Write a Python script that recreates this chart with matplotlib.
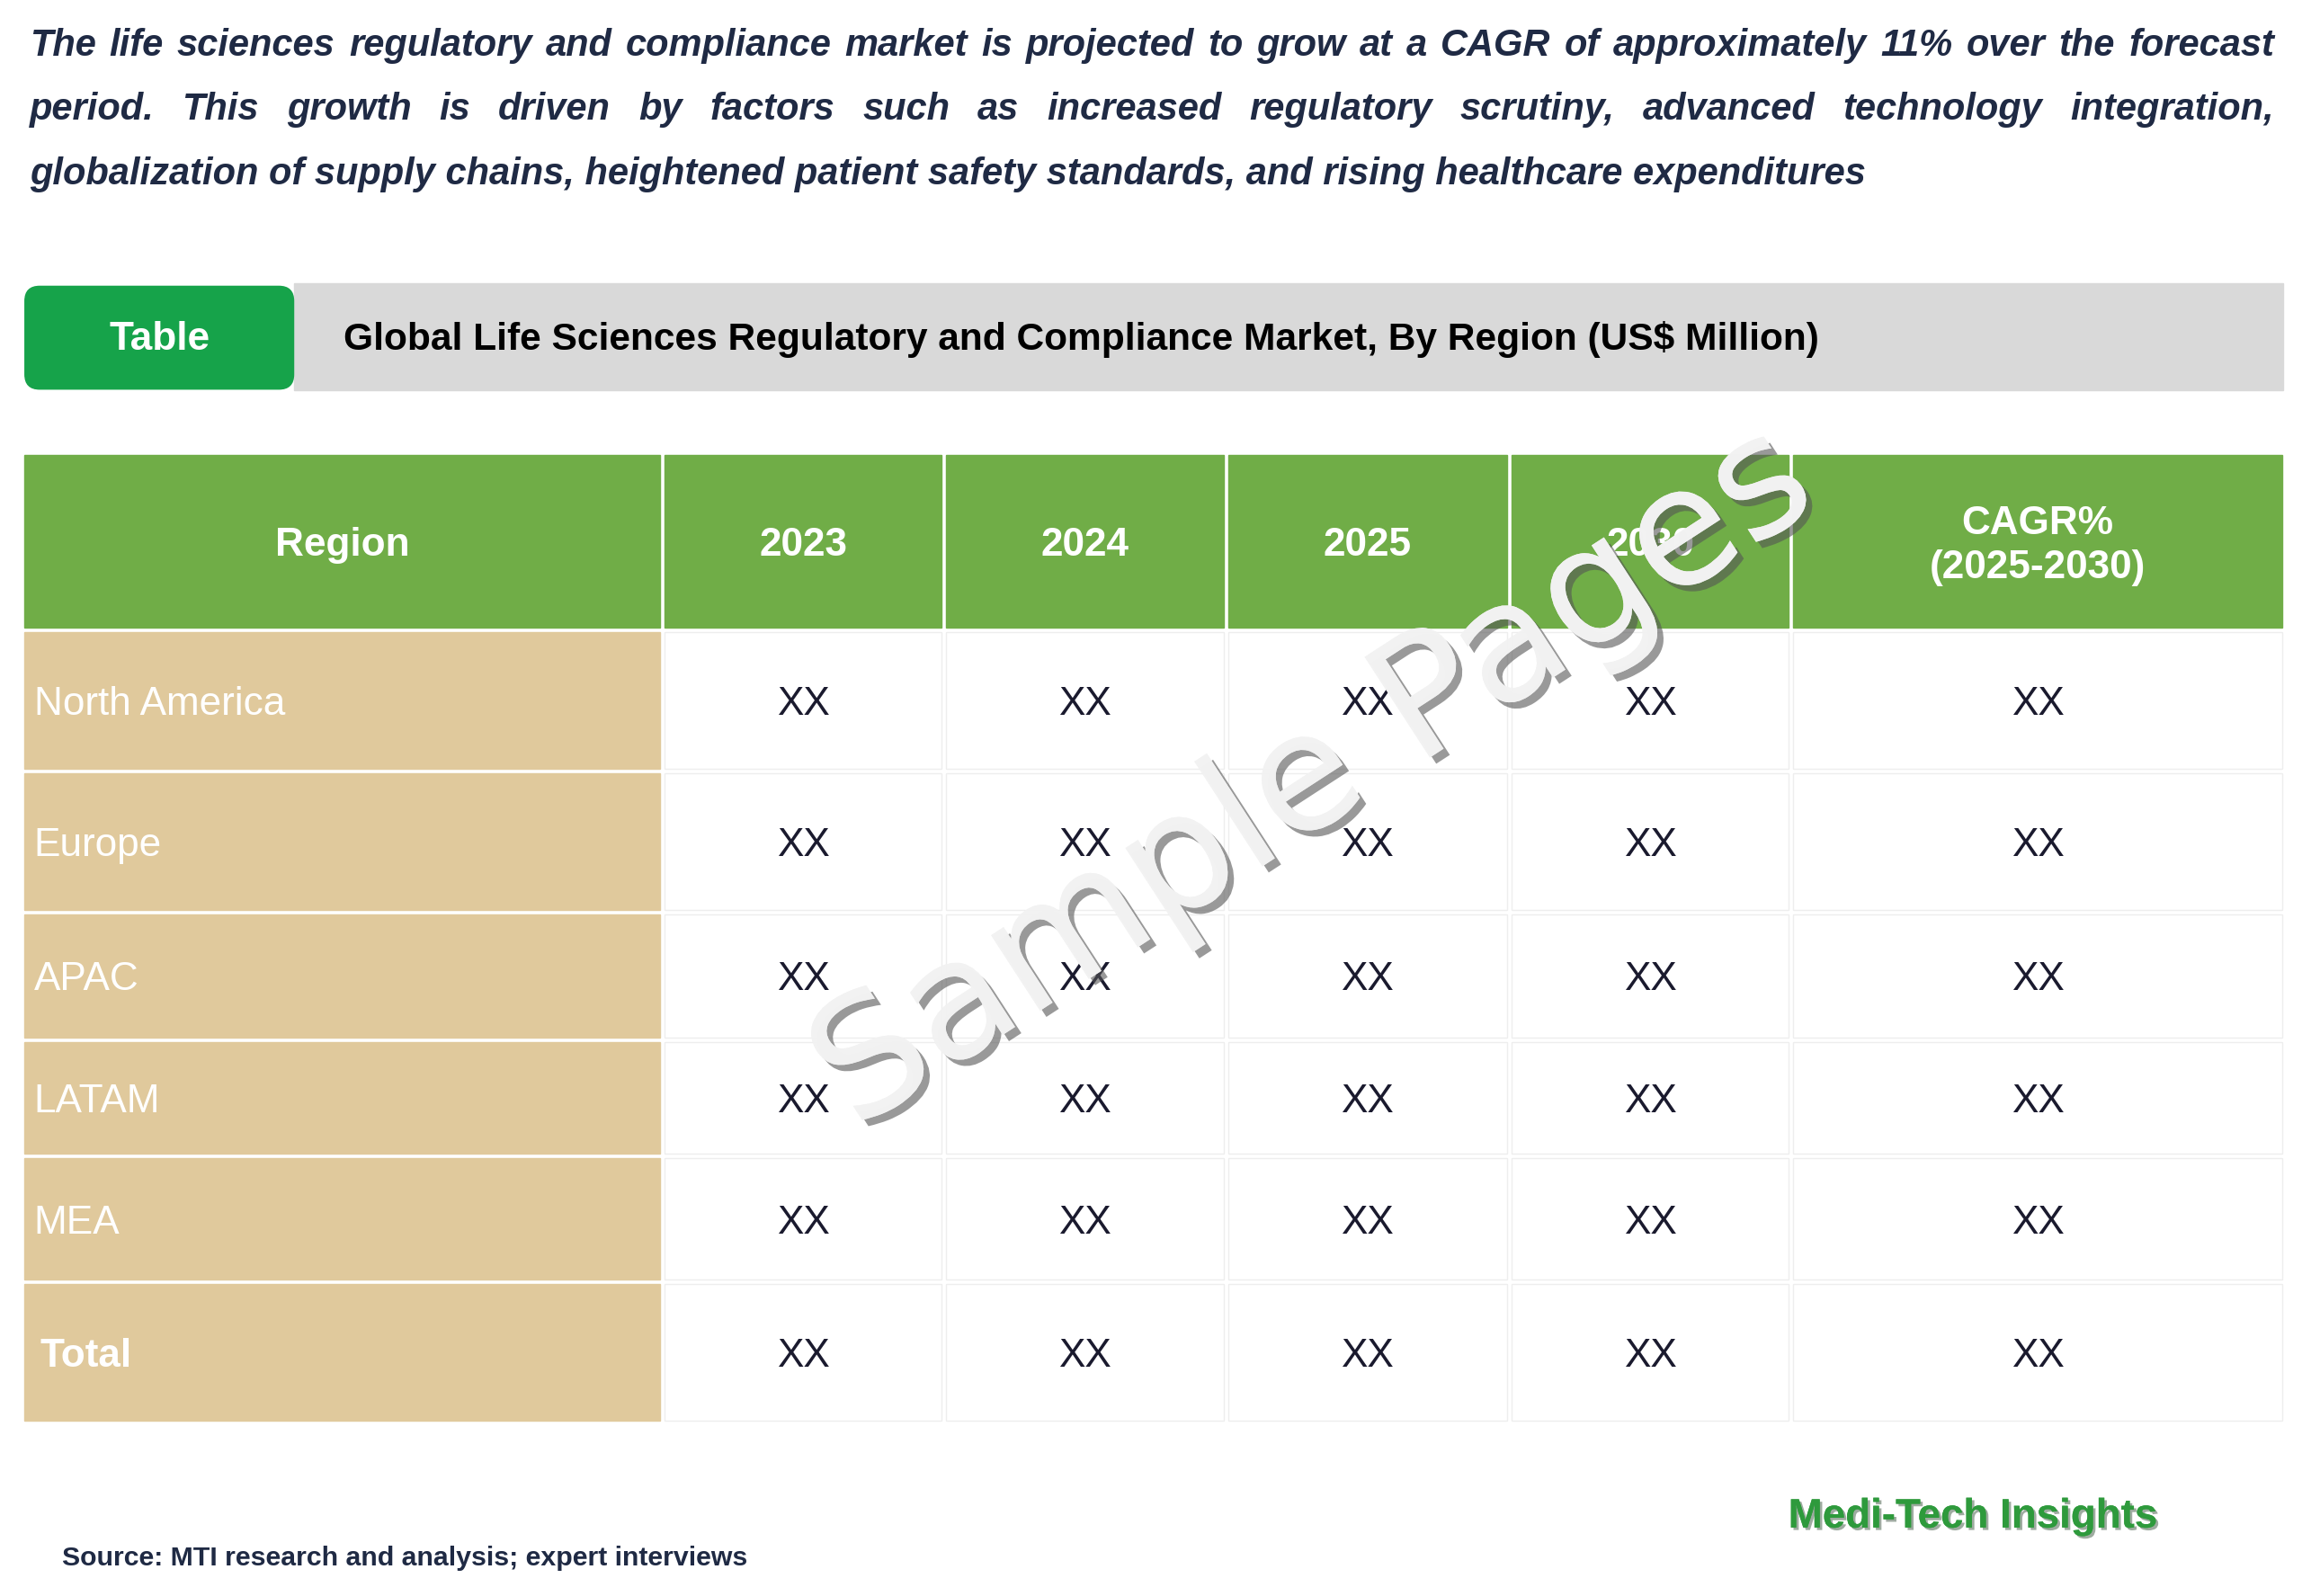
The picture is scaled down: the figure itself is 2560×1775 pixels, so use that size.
import matplotlib.pyplot as plt
from matplotlib.patches import FancyBboxPatch, Rectangle
import matplotlib.patheffects as pe

# --- data ---
regions = ['North America', 'Europe', 'APAC', 'LATAM', 'MEA', 'Total']
headers = ['Region', '2023', '2024', '2025', '2030', 'CAGR%\n(2025-2030)']
values = [['XX'] * 5 for _ in regions]

intro = ['The life sciences regulatory and compliance market is projected to grow at a CAGR of approximately 11% over the forecast',
         'period. This growth is driven by factors such as increased regulatory scrutiny, advanced technology integration,',
         'globalization of supply chains, heightened patient safety standards, and rising healthcare expenditures']
table_title = 'Global Life Sciences Regulatory and Compliance Market, By Region (US$ Million)'

W, H = 1568, 1087
S = 2560 / W
def fs(px):  # display px em -> points
    return px * S * 72 / 100

plt.rcParams['font.family'] = ['Liberation Sans', 'DejaVu Sans']

fig = plt.figure(figsize=(25.6, 17.75), dpi=100)
ax = fig.add_axes([0, 0, 1, 1])
ax.set_xlim(0, W)
ax.set_ylim(H, 0)
ax.axis('off')
fig.canvas.draw()
renderer = fig.canvas.get_renderer()

def width_of(t):
    bb = t.get_window_extent(renderer)
    return bb.width / S

# intro paragraph, first two lines justified
ifs = fs(25.5)
left, right = 20, 1549
for i, line in enumerate(intro):
    y = 31 + i * 44
    kw = dict(fontsize=ifs, fontweight='bold', fontstyle='italic', color='#1f2a44', va='center', ha='left')
    if i == len(intro) - 1:
        ax.text(left, y, line, **kw)
        continue
    words = line.split()
    arts = [ax.text(0, y, w, **kw) for w in words]
    widths = [width_of(a) for a in arts]
    space = (right - left - sum(widths)) / (len(words) - 1)
    x = left
    for a, w in zip(arts, widths):
        a.set_x(x)
        x += w + space

# title band
ax.add_patch(Rectangle((200, 193), 1355, 73, color='#d9d9d9'))
ax.add_patch(FancyBboxPatch((17, 195), 183, 70, boxstyle='round,pad=0,rounding_size=10',
                            color='#16a34a'))
ax.text(109, 231, 'Table', fontsize=fs(27), fontweight='bold', color='white', ha='center', va='center')
ax.text(234, 231, table_title, fontsize=fs(26), fontweight='bold', color='black', ha='left', va='center')

# table
xs = [15, 451, 643, 835, 1028, 1220, 1556]
ys = [310, 429, 525, 621, 708, 787, 873, 969]
gap = 1.5
cfs = fs(27)
for c in range(6):
    x0, x1 = xs[c], xs[c + 1]
    ax.add_patch(Rectangle((x0 + gap, ys[0]), x1 - x0 - 2 * gap, ys[1] - ys[0] - gap, color='#70ad47'))
    ax.text((x0 + x1) / 2, (ys[0] + ys[1]) / 2 + 2, headers[c], fontsize=cfs, fontweight='bold',
            color='white', ha='center', va='center', linespacing=1.25)
for r, reg in enumerate(regions):
    y0, y1 = ys[r + 1], ys[r + 2]
    ym = (y0 + y1) / 2 + 3
    ax.add_patch(Rectangle((xs[0] + gap, y0 + gap), xs[1] - xs[0] - 2 * gap, y1 - y0 - 2 * gap, color='#e0c99c'))
    bold = reg == 'Total'
    ax.text(23 if not bold else 27, ym, reg, fontsize=cfs, color='white', ha='left', va='center',
            fontweight='bold' if bold else 'normal')
    for c in range(5):
        x0, x1 = xs[c + 1], xs[c + 2]
        ax.add_patch(Rectangle((x0 + gap, y0 + gap), x1 - x0 - 2 * gap, y1 - y0 - 2 * gap,
                               facecolor='white', edgecolor='#eeeeee', lw=1))
        ax.text((x0 + x1) / 2, ym, values[r][c], fontsize=cfs, color='#1a1a2e', ha='center', va='center')

# watermark
ax.text(895, 530, 'Sample Pages', fontsize=fs(112), color='#f2f2f2', rotation=33, ha='center', va='center',
        fontfamily='DejaVu Sans', alpha=0.95,
        path_effects=[pe.withSimplePatchShadow(offset=(5, -5), shadow_rgbFace='#555555', alpha=0.6), pe.Normal()])

# footer
ax.text(42, 1061, 'Source: MTI research and analysis; expert interviews', fontsize=fs(18.5), fontweight='bold',
        color='#1f2a44', ha='left', va='center')
ax.text(1344, 1033, 'Medi-Tech Insights', fontsize=fs(28), fontweight='bold', color='#2e9a3c', ha='center',
        va='center', path_effects=[pe.withSimplePatchShadow(offset=(2, -2), alpha=0.4), pe.Normal()])

fig.savefig('out.png', dpi=100)
